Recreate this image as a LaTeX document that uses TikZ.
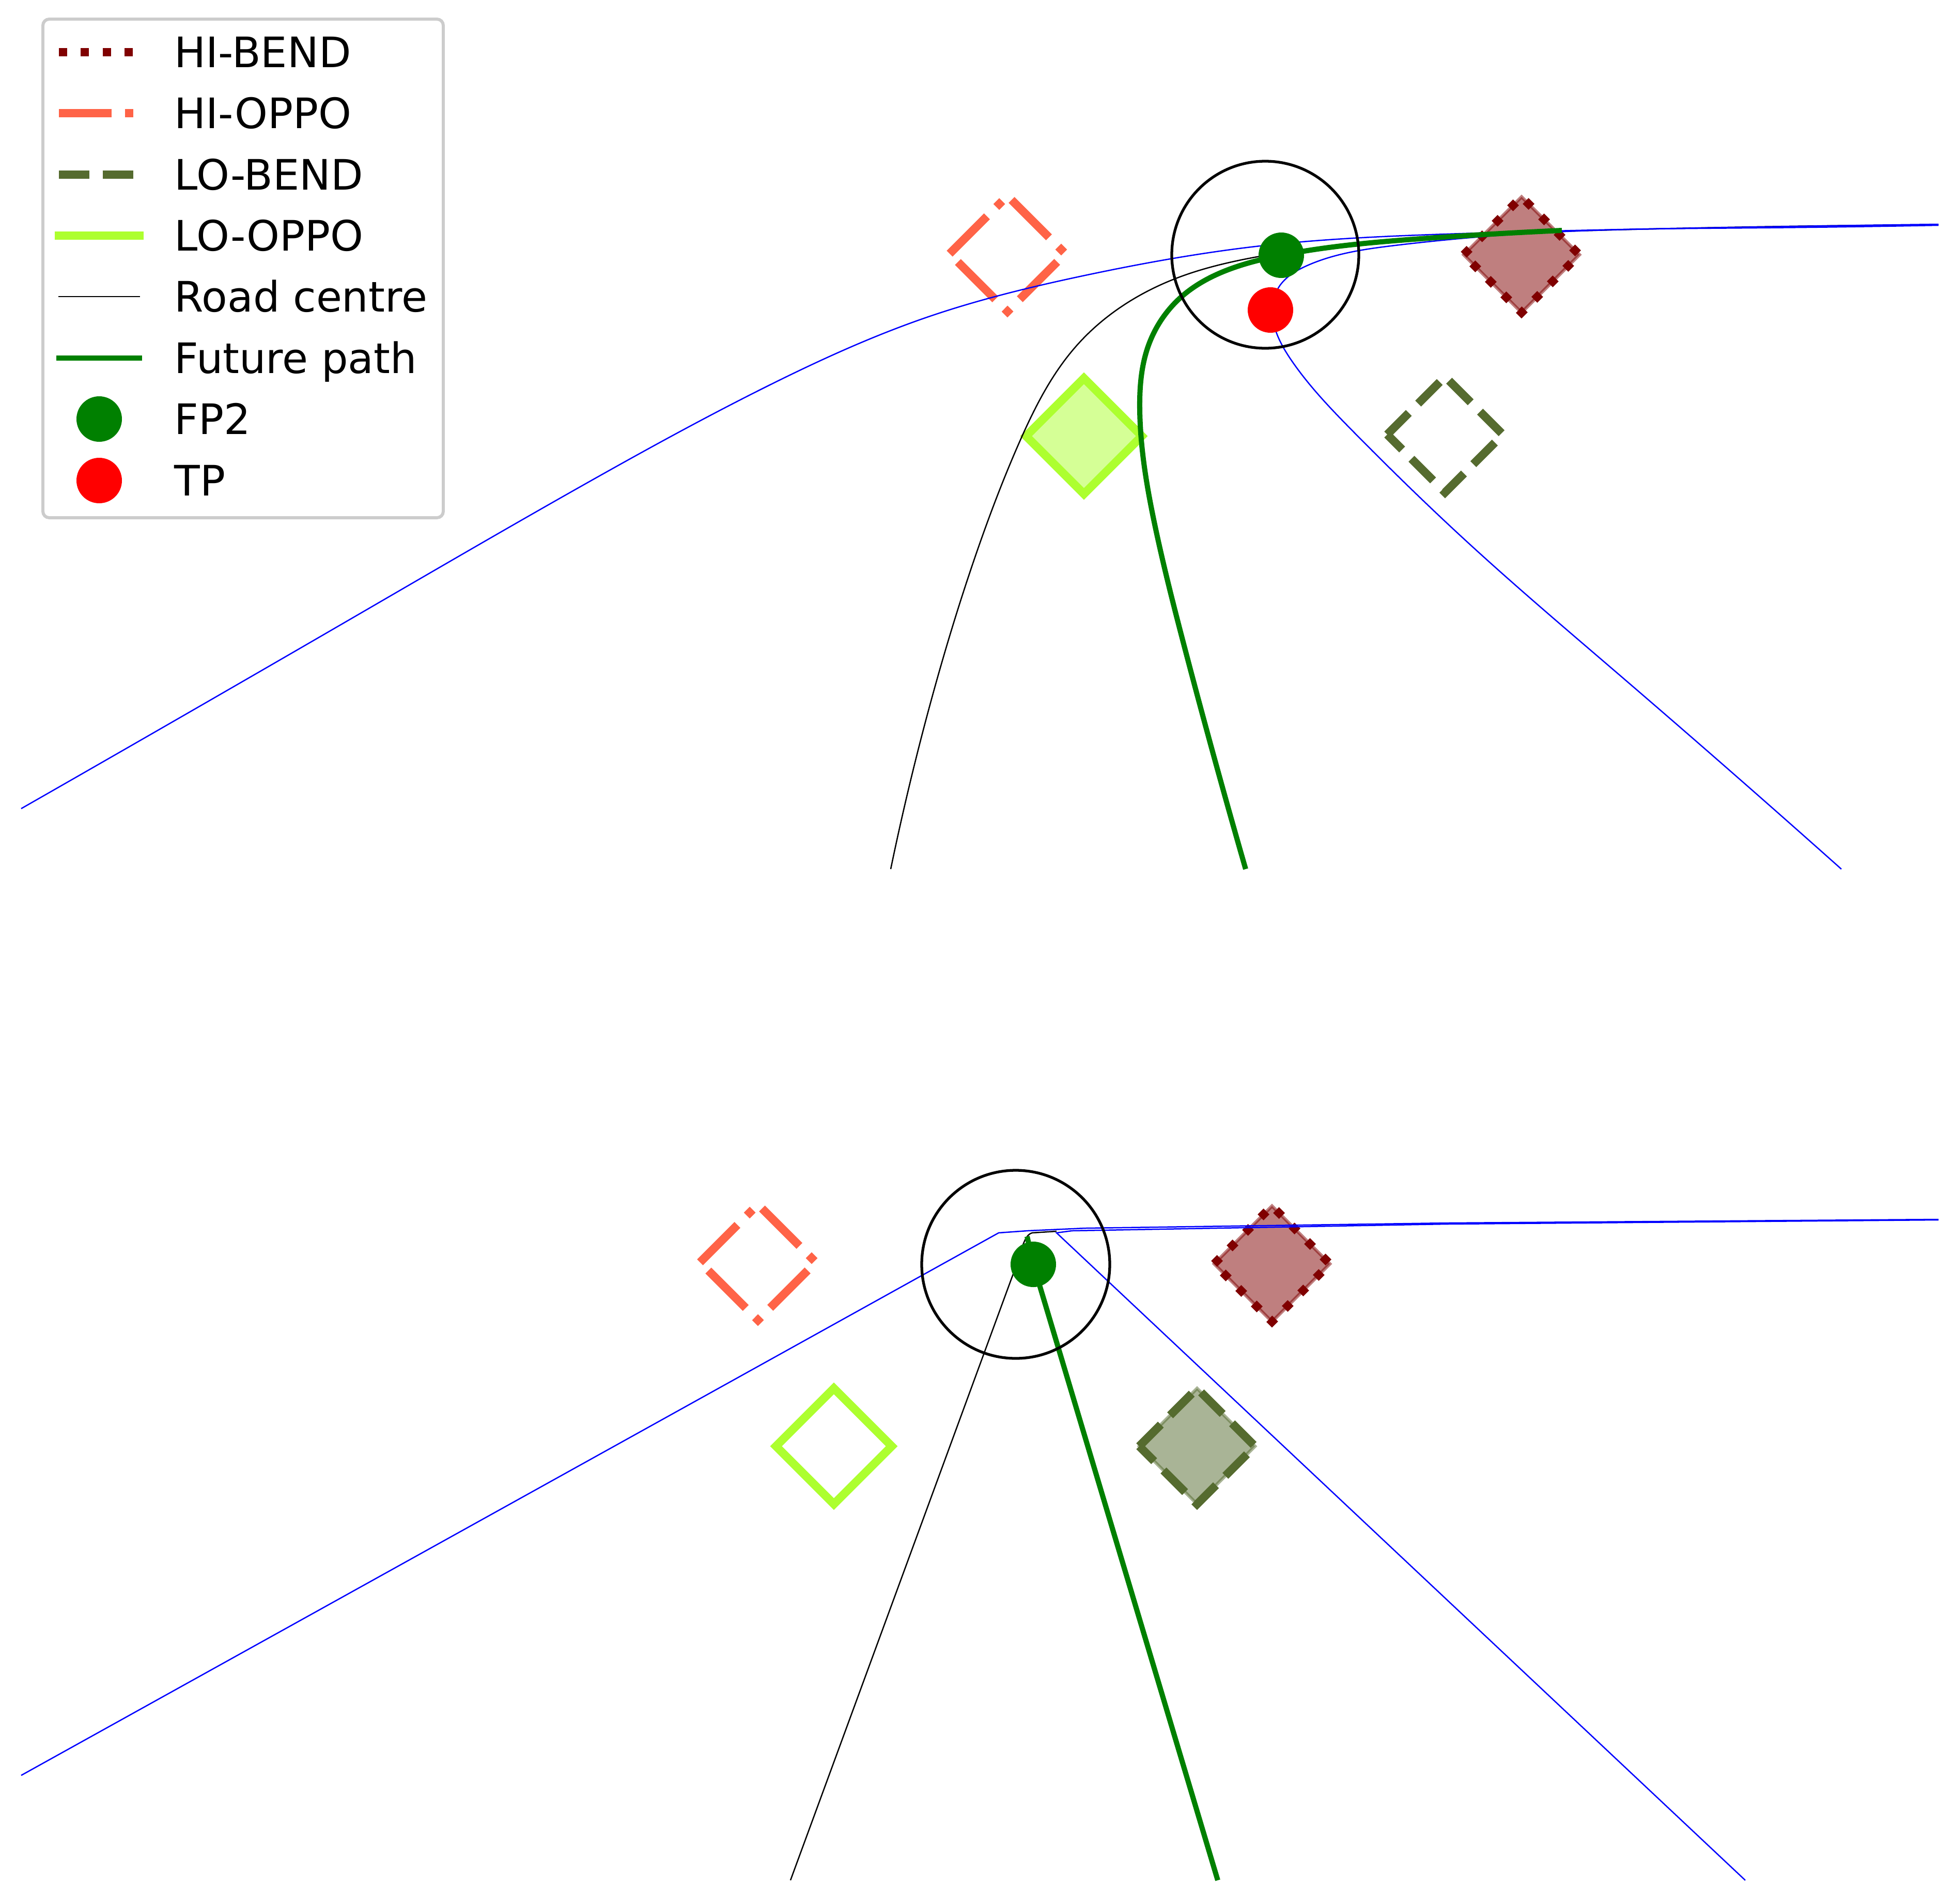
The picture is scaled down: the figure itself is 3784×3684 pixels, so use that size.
\documentclass[tikz,border=0pt]{standalone}
\usepackage{fontspec}
\setmainfont{DejaVu Sans}
\usetikzlibrary{hobby}
\definecolor{maroonc}{HTML}{800000}
\definecolor{tomatoc}{HTML}{FF6347}
\definecolor{olivec}{HTML}{556B2F}
\definecolor{gyc}{HTML}{ADFF2F}
\definecolor{fpgreen}{HTML}{008000}
\definecolor{legframe}{HTML}{CCCCCC}
\tikzset{
  hibend/.style={draw=maroonc, line width=4.55pt, dash pattern=on 4.55pt off 7.51pt},
  hioppo/.style={draw=tomatoc, line width=4.55pt, dash pattern=on 29.1pt off 7.28pt on 4.55pt off 7.28pt},
  lobend/.style={draw=olivec, line width=4.55pt, dash pattern=on 16.8pt off 7.28pt},
  looppo/.style={draw=gyc, line width=4.55pt},
  shaded/.style={fill=#1, fill opacity=0.5, draw=#1, draw opacity=0.5, line width=1.8pt},
  roadedge/.style={draw=blue, line width=0.71pt},
  roadcentre/.style={draw=black, line width=0.71pt},
  futurepath/.style={draw=fpgreen, line width=2.85pt},
  lookcircle/.style={draw=black, line width=1.5pt},
  fptwo/.style={fill=fpgreen},
  tpdot/.style={fill=red},
  legtext/.style={anchor=base west, inner sep=0pt, font=\fontsize{23.1}{27}\selectfont},
}
\begin{document}
\begin{tikzpicture}[x=0.01cm, y=-0.01cm, line join=miter]
\useasboundingbox (0,0) rectangle (3784,3684);
\fill[white] (0,0) rectangle (3784,3684);

% ---------- top panel ----------
% diamonds
\draw[hioppo] (1838,491) -- (1950,379) -- (2062,491) -- (1950,603) -- cycle;
\draw[shaded=gyc] (1986,844) -- (2098,732) -- (2210,844) -- (2098,956) -- cycle;
\draw[looppo] (1986,844) -- (2098,732) -- (2210,844) -- (2098,956) -- cycle;
\draw[shaded=maroonc] (2833,493) -- (2945,381) -- (3057,493) -- (2945,605) -- cycle;
\draw[hibend] (2833,493) -- (2945,381) -- (3057,493) -- (2945,605) -- cycle;
\draw[lobend] (2685,841) -- (2797,729) -- (2909,841) -- (2797,953) -- cycle;

% road centre
\draw[roadcentre, use Hobby shortcut] (1724,1682) .. (1800,1364) .. (1890,1070) .. (1973,856) .. (2082,671) .. (2273,540) .. (2439,496) .. (2750,461) .. (3200,443) .. (3752,435);
% road edges
\draw[roadedge, use Hobby shortcut] (41,1565) .. (689,1192) .. (1148,928) .. (1492,744) .. (1800,612) .. (2100,533) .. (2439,476) .. (2800,453) .. (3300,441) .. (3752,434);
\draw[roadedge, use Hobby shortcut] (3564,1682) .. (3133,1305) .. (2840,1049) .. (2620,836) .. (2500,698) .. (2463,610) .. (2475,556) .. (2530,514) .. (2700,475) .. (3030,448) .. (3400,441) .. (3752,436);
% future path
\draw[futurepath, use Hobby shortcut] (2411,1682) .. (2292,1250) .. (2235,1015) .. (2206,792) .. (2222,671) .. (2286,575) .. (2388,518) .. (2480,494) .. (2750,462) .. (3023,446);

\coordinate (lookTop) at (2449,493);
\coordinate (fpTop) at (2480,494);
\coordinate (tpTop) at (2459,600);
\draw[lookcircle] (lookTop) circle[radius=181];
\fill[fptwo] (fpTop) circle[radius=44];
\fill[tpdot] (tpTop) circle[radius=44];

% ---------- bottom panel ----------
\draw[hioppo] (1355,2443) -- (1467,2331) -- (1579,2443) -- (1467,2555) -- cycle;
\draw[looppo] (1502,2799) -- (1614,2687) -- (1726,2799) -- (1614,2911) -- cycle;
\draw[shaded=maroonc] (2350,2446) -- (2462,2334) -- (2574,2446) -- (2462,2558) -- cycle;
\draw[hibend] (2350,2446) -- (2462,2334) -- (2574,2446) -- (2462,2558) -- cycle;
\draw[shaded=olivec] (2205,2799) -- (2317,2687) -- (2429,2799) -- (2317,2911) -- cycle;
\draw[lobend] (2205,2799) -- (2317,2687) -- (2429,2799) -- (2317,2911) -- cycle;

\draw[roadcentre] (1530,3639) -- (1962,2463) .. controls (1978,2418) and (1982,2390) .. (1998,2386) -- (2045,2383);
\draw[roadedge] (41,3436) -- (1933,2386) -- (1989,2382) -- (2100,2377) -- (2800,2367) -- (3752,2360);
\draw[roadedge] (3378,3639) -- (2045,2386) -- (2075,2382) -- (2800,2369) -- (3752,2361);
\draw[futurepath] (2357,3639) -- (2000,2447) -- (1988,2393);

\coordinate (lookBot) at (1966,2447);
\coordinate (fpBot) at (2000,2447);
\draw[lookcircle] (lookBot) circle[radius=182];
\fill[fptwo] (fpBot) circle[radius=44];

% ---------- legend ----------
\draw[draw=legframe, line width=1.7pt, fill=white, rounded corners=3.5pt] (83,37) rectangle (858,1002);
\draw[hibend] (114,101) -- (270,101);
\draw[hioppo] (114,219) -- (270,219);
\draw[lobend] (114,338) -- (270,338);
\draw[looppo, line cap=rect] (114,456) -- (270,456);
\draw[roadcentre, line cap=rect] (114,574) -- (270,574);
\draw[futurepath, line cap=rect] (114,693) -- (270,693);
\fill[fptwo] (192,811) circle[radius=44];
\fill[tpdot] (192,930) circle[radius=44];
\node[legtext] (lg1) at (337,130.6) {HI-BEND};
\node[legtext] (lg2) at (337,248.6) {HI-OPPO};
\node[legtext] (lg3) at (337,367.6) {LO-BEND};
\node[legtext] (lg4) at (337,485.6) {LO-OPPO};
\node[legtext] (lg5) at (337,603.6) {Road centre};
\node[legtext] (lg6) at (337,722.6) {Future path};
\node[legtext] (lg7) at (337,840.6) {FP2};
\node[legtext] (lg8) at (337,959.6) {TP};
\end{tikzpicture}
\end{document}
